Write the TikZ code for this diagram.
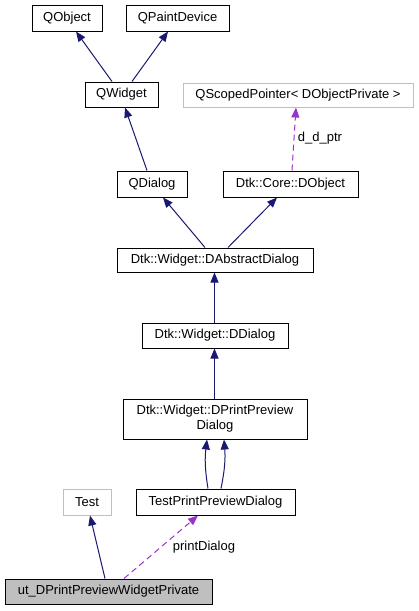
\documentclass[tikz,border=0pt]{standalone}
\usepackage{fontspec}
\setmainfont{Liberation Sans}
\usetikzlibrary{arrows.meta,calc}
\definecolor{edgeblue}{HTML}{191970}
\definecolor{edgepurple}{HTML}{9A32CD}
\definecolor{lightgrey}{HTML}{BFBFBF}
\tikzset{
  cls/.style={draw=black, line width=1pt, fill=white, inner sep=0pt, minimum height=25pt, font=\fontsize{13}{15}\selectfont, align=center},
  ext/.style={cls, draw=lightgrey},
  inherit/.style={draw=edgeblue, line width=1pt, -{Triangle[length=10pt,width=8pt]}},
  usage/.style={draw=edgepurple, line width=1pt, dash pattern=on 6pt off 4pt, -{Triangle[length=10pt,width=8pt,fill=edgepurple]}},
  elabel/.style={font=\fontsize{13}{15}\selectfont, inner sep=0pt}
}
\begin{document}
\begin{tikzpicture}[x=1pt,y=-1pt]
\useasboundingbox (0,0) rectangle (419,611);
\node[cls, minimum width=70pt, minimum height=26pt] (qo) at (67,18) {QObject};
\node[cls, minimum width=103pt, minimum height=26pt] (qpd) at (177.5,18) {QPaintDevice};
\node[cls, minimum width=73pt] (qw) at (121.5,94.5) {QWidget};
\node[ext, minimum width=230pt, minimum height=24pt] (qsp) at (298,95) {QScopedPointer< DObjectPrivate >};
\node[cls, minimum width=70pt, minimum height=26pt] (qd) at (152,184) {QDialog};
\node[cls, minimum width=135pt, minimum height=26pt] (dobj) at (290.5,184) {Dtk::Core::DObject};
\node[cls, minimum width=196pt, minimum height=24pt] (dad) at (215,260) {Dtk::Widget::DAbstractDialog};
\node[cls, minimum width=146pt] (dd) at (215,335.5) {Dtk::Widget::DDialog};
\node[cls, minimum width=184pt, minimum height=40pt] (dppd) at (215,419) {Dtk::Widget::DPrintPreview\\Dialog};
\node[ext, minimum width=48pt, minimum height=26pt] (test) at (87,502) {Test};
\node[cls, minimum width=159pt, minimum height=26pt] (tppd) at (215.5,502) {TestPrintPreviewDialog};
\node[cls, fill=lightgrey, minimum width=207pt] (ut) at (108.5,591.5) {ut\_DPrintPreviewWidgetPrivate};

\draw[inherit] ($(qw.north)+(-9.5,0)$) -- ($(qo.south)+(9,0)$);
\draw[inherit] ($(qw.north)+(10.5,0)$) -- ($(qpd.south)+(-9.5,0)$);
\draw[inherit] ($(qd.north)+(-5,0)$) -- ($(qw.south)+(3.5,0)$);
\draw[usage] ($(dobj.north)+(1.5,0)$) -- ($(qsp.south)+(-2,0)$);
\node[elabel] (lbl1) at (320,138) {d\_d\_ptr};
\draw[inherit] ($(dad.north)+(-10,0)$) -- ($(qd.south)+(11,0)$);
\draw[inherit] ($(dad.north)+(13,0)$) -- ($(dobj.south)+(-13.5,0)$);
\draw[inherit] ($(dd.north)+(-0.5,0)$) -- ($(dad.south)+(-0.5,0)$);
\draw[inherit] ($(dppd.north)+(-0.5,0)$) -- ($(dd.south)+(-0.5,0)$);
\draw[inherit] ($(tppd.north)+(-7.5,0)$) to[bend left=8] ($(dppd.south)+(-8,0)$);
\draw[inherit] ($(tppd.north)+(5.5,0)$) to[bend right=8] ($(dppd.south)+(9,0)$);
\draw[inherit] ($(ut.north)+(-3.5,0)$) -- ($(test.south)+(3,0)$);
\draw[usage] ($(ut.north)+(15.5,0)$) -- ($(tppd.south)+(-17.5,0)$);
\node[elabel] (lbl2) at (204,547) {printDialog};
\end{tikzpicture}
\end{document}
